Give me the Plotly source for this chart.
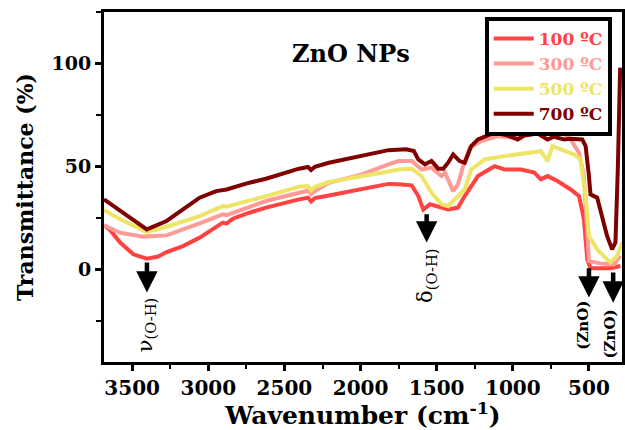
import plotly.graph_objects as go

# ---------------- data ----------------
series_names = ["100 ºC", "300 ºC", "500 ºC", "700 ºC"]

wn_100 = [3685, 3644, 3579, 3492, 3404, 3329, 3274, 3166, 3057, 2905, 2880, 2839, 2730,
          2621, 2404, 2345, 2325, 2300, 2208, 1991, 1817, 1751, 1700, 1664, 1621, 1588,
          1544, 1500, 1469, 1425, 1360, 1316, 1229, 1120, 1055, 946, 859, 816, 772, 707,
          620, 565, 533, 511, 490, 450, 400, 359, 294]
t_100 = [21.4, 19.0, 13.0, 7.3, 5.2, 6.2, 8.4, 11.3, 15.4, 22.7, 22.2, 24.6, 27.5,
         30.0, 34.0, 34.8, 33.0, 34.6, 35.9, 38.8, 41.5, 41.3, 41.0, 40.8, 35.6, 29.1,
         31.6, 30.5, 30.0, 29.1, 30.0, 35.6, 45.3, 50.1, 48.5, 48.5, 47.0, 43.7, 45.3, 42.9,
         38.8, 35.6, 24.3, 4.9, 0.5, 0.5, 0.8, 0.5, 1.6]

wn_300 = [3685, 3579, 3427, 3274, 3057, 2905, 2880, 2730, 2621, 2404, 2345, 2325, 2300,
          2208, 1991, 1817, 1751, 1664, 1599, 1534, 1469, 1446, 1392, 1360, 1327, 1283,
          1207, 1098, 990, 881, 794, 751, 685, 620, 565, 533, 511, 500, 424, 337, 294]
t_300 = [21.4, 17.8, 15.9, 16.5, 22.3, 26.7, 26.3, 30.0, 33.2, 37.2, 38.2, 36.6, 38.1,
         42.0, 46.1, 51.0, 52.6, 52.6, 48.5, 49.4, 45.3, 47.0, 38.0, 41.3, 50.1, 59.1,
         62.3, 64.7, 63.9, 66.4, 65.5, 68.8, 67.1, 63.1, 56.6, 45.3, 13.0, 4.0, 2.9, 2.4, 6.5]

wn_500 = [3685, 3579, 3404, 3274, 3057, 2905, 2880, 2730, 2621, 2404, 2345, 2325, 2300,
          2208, 1991, 1817, 1751, 1664, 1599, 1534, 1469, 1425, 1381, 1316, 1273, 1185,
          1055, 968, 816, 772, 740, 685, 598, 555, 522, 500, 446, 359, 315, 283]
t_500 = [28.8, 24.3, 18.1, 20.7, 25.9, 30.7, 30.4, 33.2, 35.6, 40.1, 40.4, 38.4, 40.0,
         42.4, 45.0, 47.5, 48.5, 48.9, 45.3, 37.2, 31.6, 30.7, 34.0, 38.8, 48.5, 53.4,
         55.0, 55.8, 57.4, 52.6, 59.9, 58.3, 55.8, 53.4, 35.6, 16.2, 9.7, 3.3, 6.5, 13.0]

wn_700 = [3685, 3579, 3404, 3274, 3166, 3057, 2948, 2880, 2730, 2621, 2404, 2345, 2325,
          2300, 2208, 1991, 1817, 1700, 1650, 1621, 1577, 1534, 1490, 1457, 1425, 1392,
          1349, 1316, 1273, 1229, 1120, 1033, 968, 924, 837, 772, 728, 663, 620, 544,
          522, 500, 490, 446, 413, 381, 348, 326, 310, 295]
t_700 = [34.0, 28.3, 19.4, 23.5, 29.1, 34.8, 38.0, 38.8, 42.1, 44.0, 48.9, 49.7, 48.2,
         49.8, 51.8, 55.0, 57.9, 58.3, 57.5, 53.4, 51.0, 52.6, 48.9, 48.9, 51.8, 55.8,
         52.6, 51.8, 59.9, 63.1, 66.4, 65.0, 63.1, 65.0, 66.0, 63.1, 64.4, 63.1, 63.4, 63.1,
         59.9, 45.3, 36.4, 34.8, 25.9, 16.2, 9.7, 13.0, 50.0, 98.0]

x_ticks = [3500, 3000, 2500, 2000, 1500, 1000, 500]
y_ticks = [0, 50, 100]

# band labels (peak assignments)
band_labels = ["ν<sub>(O-H)</sub>", "δ<sub>(O-H)</sub>", "<b>(ZnO)</b>", "<b>(ZnO)</b>"]
band_wn = [3403, 1566, 500, 341]

# ---------------- styling ----------------
colors = ["#FF4242", "#FF9A96", "#EEE466", "#800000"]
FONT = "DejaVu Serif"

fig = go.Figure()
for name, wn, t, c in zip(series_names, [wn_100, wn_300, wn_500, wn_700],
                          [t_100, t_300, t_500, t_700], colors):
    fig.add_trace(go.Scatter(
        x=wn, y=t, mode="lines",
        name=f'<span style="color:{c}"><b>{name}</b></span>',
        line=dict(color=c, width=4),
    ))

# arrows (tail -> tip, in data units)
arrow_tail = [4.0, 27.5, 1.3, -0.8]
arrow_tip = [-11.3, 13.0, -13.7, -16.2]
label_x = [3409, 1566, 537, 361]
label_y = [-27.2, -3.4, -27.2, -31.6]
label_size = [21, 21, 15, 15]

annotations = []
for i in range(4):
    annotations.append(dict(
        x=band_wn[i], y=arrow_tip[i], ax=band_wn[i], ay=arrow_tail[i],
        xref="x", yref="y", axref="x", ayref="y", text="",
        showarrow=True, arrowhead=2, arrowwidth=4.5, arrowsize=0.95,
        arrowcolor="black"))
    annotations.append(dict(
        x=label_x[i], y=label_y[i], xref="x", yref="y", text=band_labels[i],
        showarrow=False, textangle=-90,
        font=dict(family=FONT, size=label_size[i], color="black")))

annotations.append(dict(
    x=0.476, y=0.929, xref="paper", yref="paper", text="<b>ZnO NPs</b>",
    showarrow=False, font=dict(family=FONT, size=24, color="black")))

fig.update_layout(
    width=625, height=430,
    margin=dict(l=104, r=0, t=12, b=68),
    paper_bgcolor="white", plot_bgcolor="white",
    showlegend=True,
    legend=dict(
        x=0.735, y=0.986, xanchor="left", yanchor="top",
        bordercolor="black", borderwidth=4, bgcolor="white",
        font=dict(family=FONT, size=17), itemwidth=40,
    ),
    annotations=annotations,
    xaxis=dict(
        range=[3685, 283], tickvals=x_ticks,
        ticks="outside", ticklen=6, tickwidth=3, tickcolor="black",
        showline=True, linewidth=3, linecolor="black", mirror=True,
        showgrid=False, zeroline=False,
        tickfont=dict(family=FONT, size=20, color="black", weight="bold"),
        minor=dict(dtick=250, tick0=250, ticks="outside", ticklen=4, tickwidth=2, tickcolor="black"),
        title=dict(text="<b>Wavenumber (cm<sup>-1</sup>)</b>", standoff=5,
                   font=dict(family=FONT, size=25, color="black")),
    ),
    yaxis=dict(
        range=[-45, 125], tickvals=y_ticks,
        ticks="outside", ticklen=6, tickwidth=3, tickcolor="black",
        showline=True, linewidth=3, linecolor="black", mirror=True,
        showgrid=False, zeroline=False,
        tickfont=dict(family=FONT, size=19, color="black", weight="bold"),
        minor=dict(dtick=25, tick0=-25, ticks="outside", ticklen=5, tickwidth=2, tickcolor="black"),
        title=dict(text="<b>Transmittance (%)</b>", standoff=12,
                   font=dict(family=FONT, size=22, color="black")),
    ),
)

fig.write_html("out.html", config={"displayModeBar": False},
               post_script="document.body.style.margin='0';")
